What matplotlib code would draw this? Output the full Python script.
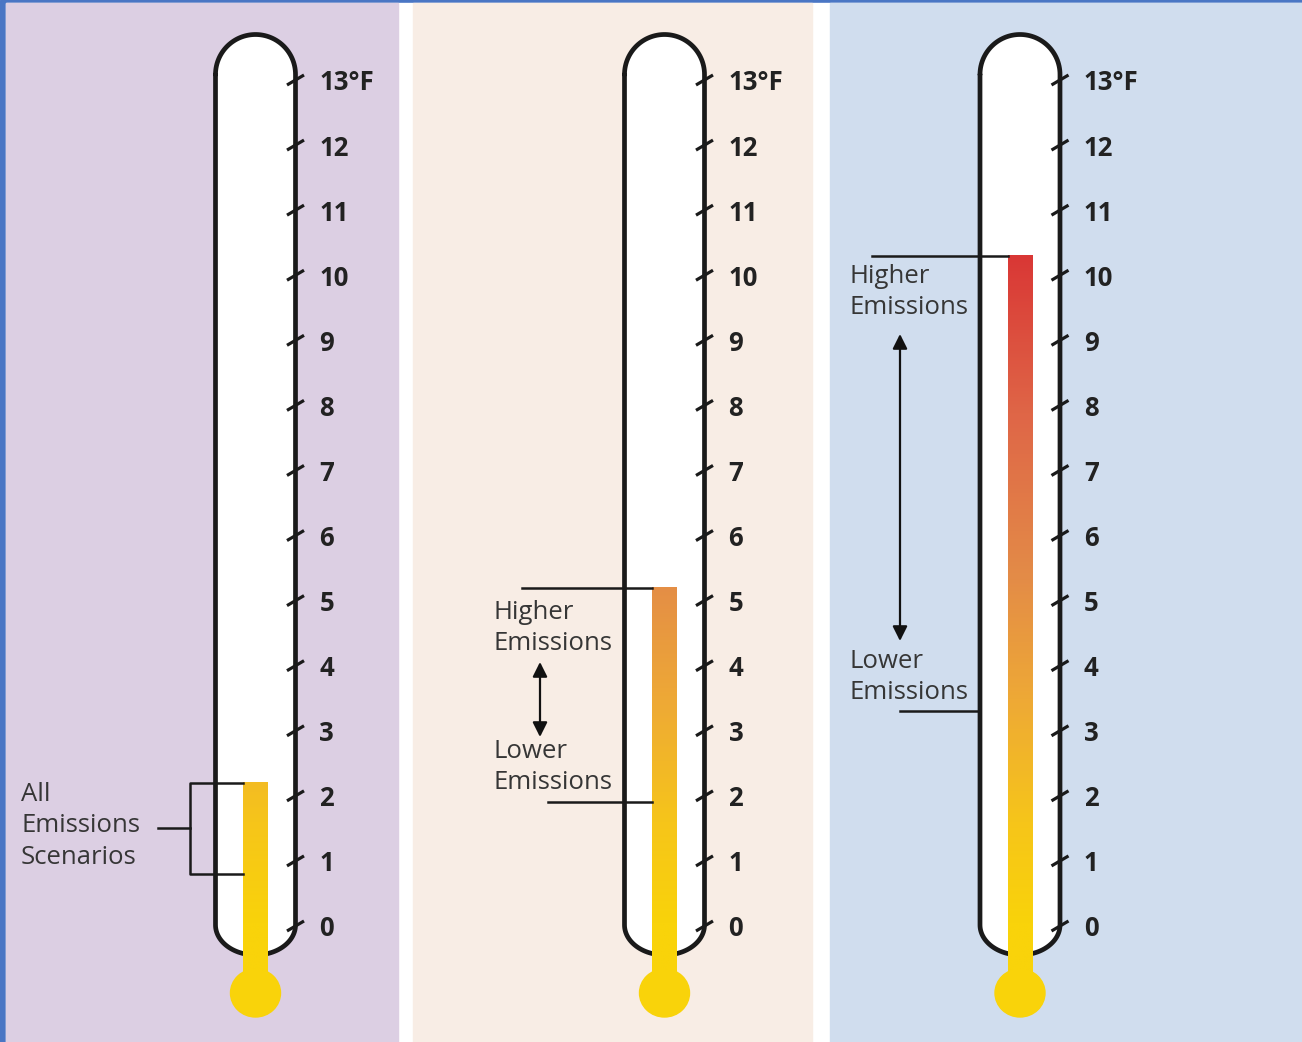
import numpy as np
import matplotlib
matplotlib.use("Agg")
import matplotlib.pyplot as plt
from matplotlib.patches import Rectangle, Ellipse, Polygon
from matplotlib.colors import LinearSegmentedColormap

# ---------------- data ----------------
panel_names = ["All scenarios", "Mid century", "End of century"]
bar_tops = [2.2, 5.2, 10.3]          # warming (°F) shown by the thermometer fill
range_low = [0.8, 1.9, 3.3]          # lower-emissions end of the bracket
range_high = [2.2, 5.2, 10.3]        # higher-emissions end of the bracket
tick_values = list(range(0, 14))
tick_labels = [str(v) for v in range(0, 13)] + ["13°F"]
bracket_texts = [["All\nEmissions\nScenarios"],
                 ["Higher\nEmissions", "Lower\nEmissions"],
                 ["Higher\nEmissions", "Lower\nEmissions"]]

# ---------------- layout helpers ----------------
PX_PER_DEG = (926 - 80) / 13.0
def deg(ypx):
    return (926 - ypx) / PX_PER_DEG
def dh(px):
    return px / PX_PER_DEG

W, H = 1302, 1042
fig = plt.figure(figsize=(W / 100, H / 100), dpi=100)
ax = fig.add_axes([0, 0, 1, 1])
ax.set_xlim(0, W)
ax.set_ylim(deg(H), deg(0))
ax.axis("off")

FONT = ["Open Sans", "DejaVu Sans"]
TXT = "#363636"
TFS = 18.5
TLS = 1.36

# backgrounds
ax.add_patch(Rectangle((0, deg(H)), W, dh(H), color="#4a76c4", zorder=0))
ax.add_patch(Rectangle((6, deg(H)), W - 6, dh(H - 3), color="#ffffff", zorder=0))
panel_bg = ["#dccfe3", "#f8ede5", "#d0ddee"]
panel_x = [(6, 398), (413, 812), (830, W)]
for (x0, x1), c in zip(panel_x, panel_bg):
    ax.add_patch(Rectangle((x0, deg(H)), x1 - x0, dh(H - 3), color=c, zorder=0.5))

cmap = LinearSegmentedColormap.from_list(
    "heat",
    [(0.0, "#f9d30a"), (0.15, "#f6c51a"), (0.33, "#eea936"),
     (0.52, "#e38a48"), (0.75, "#df6647"), (1.0, "#d93434")])

centers = [255.5, 664.5, 1020.0]
HALF = 40
BAR_HALF = 12.5
LW = 3.4

for i, cx in enumerate(centers):
    L, R = cx - HALF, cx + HALF
    top_c = deg(74.5)
    t = np.linspace(np.pi, 0, 60)
    top_x = cx + HALF * np.cos(t)
    top_y = top_c + dh(HALF) * np.sin(t)
    bot_c = deg(925)
    tb = np.linspace(0, -np.pi, 60)
    bot_x = cx + HALF * np.cos(tb)
    bot_y = bot_c + dh(30) * np.sin(tb)
    xs = np.concatenate([top_x, bot_x, [top_x[0]]])
    ys = np.concatenate([top_y, bot_y, [top_y[0]]])
    ax.add_patch(Polygon(np.column_stack([xs, ys]), closed=True,
                         facecolor="white", edgecolor="none", zorder=1))
    ax.plot(xs, ys, color="#1a1a1a", lw=LW, zorder=2, solid_capstyle="round")

    # fill bar (gradient by temperature) + stem
    y0 = deg(993)
    y1 = bar_tops[i]
    grad = np.linspace(y0, y1, 300).reshape(-1, 1)
    ax.imshow(grad, extent=[cx - BAR_HALF, cx + BAR_HALF, y0, y1], origin="lower",
              cmap=cmap, vmin=0, vmax=10.5, aspect="auto", zorder=3,
              interpolation="bilinear")
    ax.add_patch(Ellipse((cx, deg(993)), 50, dh(48), color="#f9d30a", zorder=3))

    # ticks and labels
    for v, lab in zip(tick_values, tick_labels):
        ax.plot([R - 8.5, R + 8.5], [v - dh(5), v + dh(5)], color="#1a1a1a",
                lw=2.3, zorder=4, solid_capstyle="butt")
        ax.text(R + 24, v - dh(3), lab, fontsize=18.5, fontweight="bold",
                color="#222222", va="center", ha="left", family=FONT, zorder=4)

ax.set_aspect("auto")
ax.set_xlim(0, W)
ax.set_ylim(deg(H), deg(0))

BLW = 1.8
# panel 1 bracket
cx = centers[0]
lo, hi = range_low[0], range_high[0]
ax.plot([cx - BAR_HALF, 190, 190, cx - BAR_HALF], [hi, hi, lo, lo],
        color="#1a1a1a", lw=BLW, zorder=5)
ax.plot([158, 190], [(lo + hi) / 2, (lo + hi) / 2], color="#1a1a1a", lw=BLW, zorder=5)
ax.text(21, deg(826), bracket_texts[0][0], fontsize=TFS, color=TXT, family=FONT,
        va="center", ha="left", linespacing=TLS)

# panel 2
cx = centers[1]
ax.plot([522, cx - BAR_HALF], [range_high[1]] * 2, color="#1a1a1a", lw=BLW, zorder=5)
ax.plot([548, cx - BAR_HALF], [range_low[1]] * 2, color="#1a1a1a", lw=BLW, zorder=5)
ax.text(494, deg(628), bracket_texts[1][0], fontsize=TFS, color=TXT, family=FONT,
        va="center", ha="left", linespacing=TLS)
ax.text(494, deg(767), bracket_texts[1][1], fontsize=TFS, color=TXT, family=FONT,
        va="center", ha="left", linespacing=TLS)
ax.annotate("", xy=(540, deg(662)), xytext=(540, deg(737)),
            arrowprops=dict(arrowstyle="<|-|>", color="#111111", lw=1.6,
                            mutation_scale=22, shrinkA=0, shrinkB=0))

# panel 3
cx = centers[2]
ax.plot([872, cx - BAR_HALF], [range_high[2]] * 2, color="#1a1a1a", lw=BLW, zorder=5)
ax.plot([900, cx - HALF], [range_low[2]] * 2, color="#1a1a1a", lw=BLW, zorder=5)
ax.text(850, deg(292), bracket_texts[2][0], fontsize=TFS, color=TXT, family=FONT,
        va="center", ha="left", linespacing=TLS)
ax.text(850, deg(677), bracket_texts[2][1], fontsize=TFS, color=TXT, family=FONT,
        va="center", ha="left", linespacing=TLS)
ax.annotate("", xy=(900, deg(334)), xytext=(900, deg(641)),
            arrowprops=dict(arrowstyle="<|-|>", color="#111111", lw=1.6,
                            mutation_scale=22, shrinkA=0, shrinkB=0))

fig.savefig("out.png", dpi=100)
